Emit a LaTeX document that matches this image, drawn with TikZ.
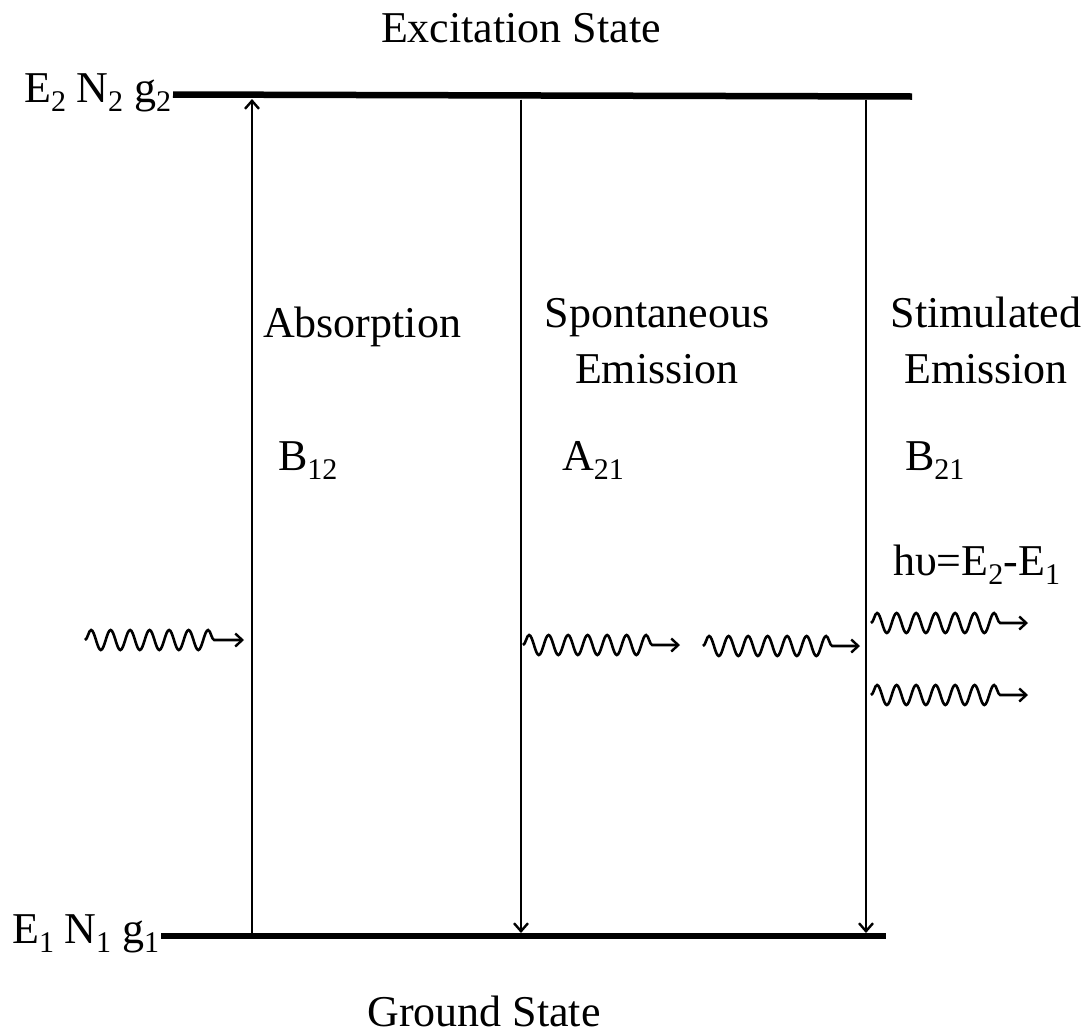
\documentclass[tikz,border=0pt]{standalone}
\usepackage{fontspec}
\setmainfont{Liberation Serif}
\usetikzlibrary{arrows.meta,decorations.pathmorphing}
\newcommand\sbs[1]{\raisebox{-9pt}{\fontsize{30}{30}\selectfont #1}}
\begin{document}
\begin{tikzpicture}[x=1pt,y=-1pt,
  lbl/.style={font=\fontsize{44}{56}\selectfont, inner sep=0pt, outer sep=0pt},
  level/.style={line width=6.5pt},
  trans/.style={line width=2.6pt, -{Straight Barb[length=8pt,width=14pt,line width=2.4pt]}},
  photon/.style={line width=2.6pt, decorate,
    decoration={snake, amplitude=10pt, segment length=19.5pt, post length=22pt},
    -{Straight Barb[length=7pt,width=13pt,line width=2.4pt]}}]
\useasboundingbox (0,0) rectangle (1091,1034);
% energy levels
\coordinate (T1) at (173,94.5);
\coordinate (T2) at (912,96.5);
\coordinate (G1) at (161,936);
\coordinate (G2) at (886,936);
\draw[level] (T1) -- (T2);
\draw[level] (G1) -- (G2);
% transition end points
\coordinate (absB) at (252,933);
\coordinate (absT) at (252,99);
\coordinate (spoT) at (521,99.5);
\coordinate (spoB) at (521,933);
\coordinate (stiT) at (866,99.5);
\coordinate (stiB) at (866,933);
\draw[trans] (absB) -- (absT);
\draw[trans] (spoT) -- (spoB);
\draw[trans] (stiT) -- (stiB);
% photons
\coordinate (w1s) at (85,640);   \coordinate (w1e) at (244,640);
\coordinate (w2s) at (523,645);  \coordinate (w2e) at (680,645);
\coordinate (w3s) at (703,646);  \coordinate (w3e) at (860,646);
\coordinate (w4s) at (871,623);  \coordinate (w4e) at (1028,623);
\coordinate (w5s) at (871,695);  \coordinate (w5e) at (1028,695);
\draw[photon] (w1s) -- (w1e);
\draw[photon] (w2s) -- (w2e);
\draw[photon] (w3s) -- (w3e);
\draw[photon] (w4s) -- (w4e);
\draw[photon] (w5s) -- (w5e);
% labels
\node[lbl, anchor=base] (exc) at (521,42) {Excitation State};
\node[lbl, anchor=base] (gnd) at (484,1026) {Ground State};
\node[lbl, anchor=base east] (up) at (171,102) {E\sbs{2}\hspace{10pt}N\sbs{2}\hspace{11pt}g\sbs{2}};
\node[lbl, anchor=base east] (lo) at (159,943) {E\sbs{1}\hspace{10pt}N\sbs{1}\hspace{11pt}g\sbs{1}};
\node[lbl, anchor=base west] (absl) at (263,337) {Absorption};
\node[lbl, anchor=base west] (b12) at (278,470) {B\sbs{12}};
\node[lbl, anchor=base] (spol) at (657,327) {\begin{tabular}[t]{@{}c@{}}Spontaneous\\Emission\end{tabular}};
\node[lbl, anchor=base west] (a21) at (562,470) {A\sbs{21}};
\node[lbl, anchor=base] (stil) at (986,327) {\begin{tabular}[t]{@{}c@{}}Stimulated\\Emission\end{tabular}};
\node[lbl, anchor=base west] (b21) at (905,470) {B\sbs{21}};
\node[lbl, anchor=base west] (hv) at (893,575) {hυ=E\sbs{2}-E\sbs{1}};
\end{tikzpicture}
\end{document}
